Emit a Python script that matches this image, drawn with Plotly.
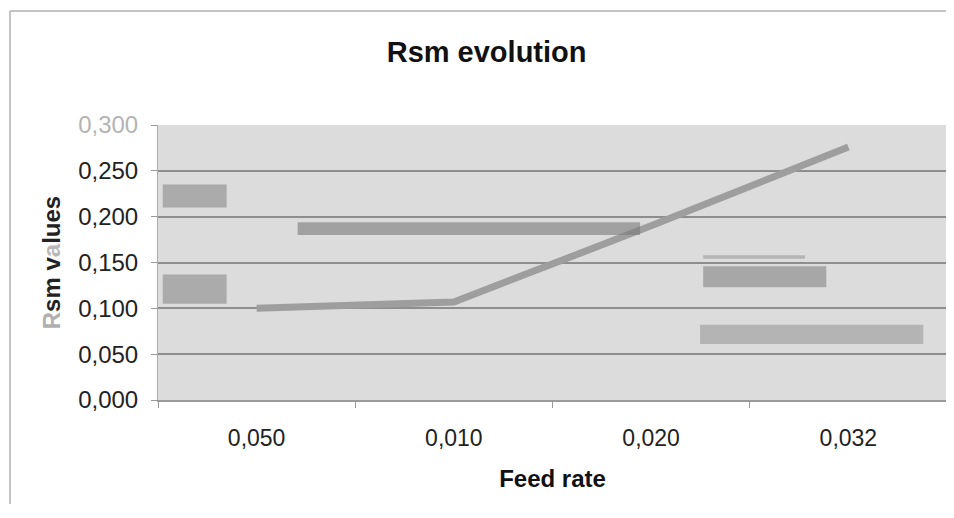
import plotly.graph_objects as go

categories = ["0,050", "0,010", "0,020", "0,032"]
rsm_values = [0.100, 0.107, 0.190, 0.276]
y_ticks = [0.0, 0.05, 0.10, 0.15, 0.20, 0.25, 0.30]
y_ticktext = ["0,000", "0,050", "0,100", "0,150", "0,200", "0,250",
              "<span style='color:#b4b4b4'>0,300</span>"]

FONT = "Liberation Sans, Arial, sans-serif"

fig = go.Figure()
fig.add_trace(go.Scatter(
    x=categories, y=rsm_values, mode="lines",
    line=dict(color="#9e9e9e", width=7),
    showlegend=False, hoverinfo="skip",
))

# obscured (scanned noise) label blocks
blobs = [
    (0.006, 0.087, 0.210, 0.235, "#8a8a8a"),
    (0.006, 0.087, 0.105, 0.137, "#8a8a8a"),
    (0.177, 0.611, 0.180, 0.194, "#7a7a7a"),
    (0.691, 0.847, 0.123, 0.146, "#848484"),
    (0.691, 0.820, 0.154, 0.158, "#9a9a9a"),
    (0.687, 0.970, 0.061, 0.082, "#9a9a9a"),
]
for x0, x1, y0, y1, c in blobs:
    fig.add_shape(type="rect", xref="paper", yref="y", x0=x0, x1=x1, y0=y0, y1=y1,
                  fillcolor=c, opacity=0.6, line=dict(width=0), layer="above")

# outer chart frame (top and left edges visible)
fig.add_shape(type="line", xref="paper", yref="paper",
              x0=-0.1876, x1=1.02, y0=1.4145, y1=1.4145,
              line=dict(color="#c4c4c4", width=2))
fig.add_shape(type="line", xref="paper", yref="paper",
              x0=-0.1876, x1=-0.1876, y0=1.4145, y1=-0.45,
              line=dict(color="#c4c4c4", width=2))

fig.update_layout(
    width=944, height=496, autosize=False,
    margin=dict(l=150, r=5, t=117, b=104),
    paper_bgcolor="white", plot_bgcolor="#dcdcdc",
    title=dict(text="<b>Rsm evolution</b>", x=0.507, xanchor="center", xref="container",
               y=0.911, yanchor="middle", yref="container",
               font=dict(family=FONT, size=29, color="#111")),
    xaxis=dict(
        type="category", range=[-0.5, 3.5], tickson="boundaries",
        ticks="outside", ticklen=6, tickcolor="#999",
        showline=True, linecolor="#999", linewidth=1.5,
        showgrid=False, ticklabelstandoff=17,
        tickfont=dict(family=FONT, size=23, color="#222"),
        title=dict(text="<b>Feed rate</b>", standoff=20,
                   font=dict(family=FONT, size=24, color="#111")),
    ),
    yaxis=dict(
        range=[0, 0.3], tickvals=y_ticks, ticktext=y_ticktext,
        ticks="outside", ticklen=6, tickcolor="#999",
        showline=True, linecolor="#aaa", linewidth=1,
        gridcolor="#8e8e8e", gridwidth=1.5, zeroline=False,
        ticklabelstandoff=8,
        tickfont=dict(family=FONT, size=24, color="#222"),
        title=dict(text="<b><span style='color:#b0b0b0'>R</span>sm v<span style='color:#b8b8b8'>a</span>lues</b>",
                   standoff=10,
                   font=dict(family=FONT, size=24, color="#222")),
    ),
)

fig.write_html("out.html")
